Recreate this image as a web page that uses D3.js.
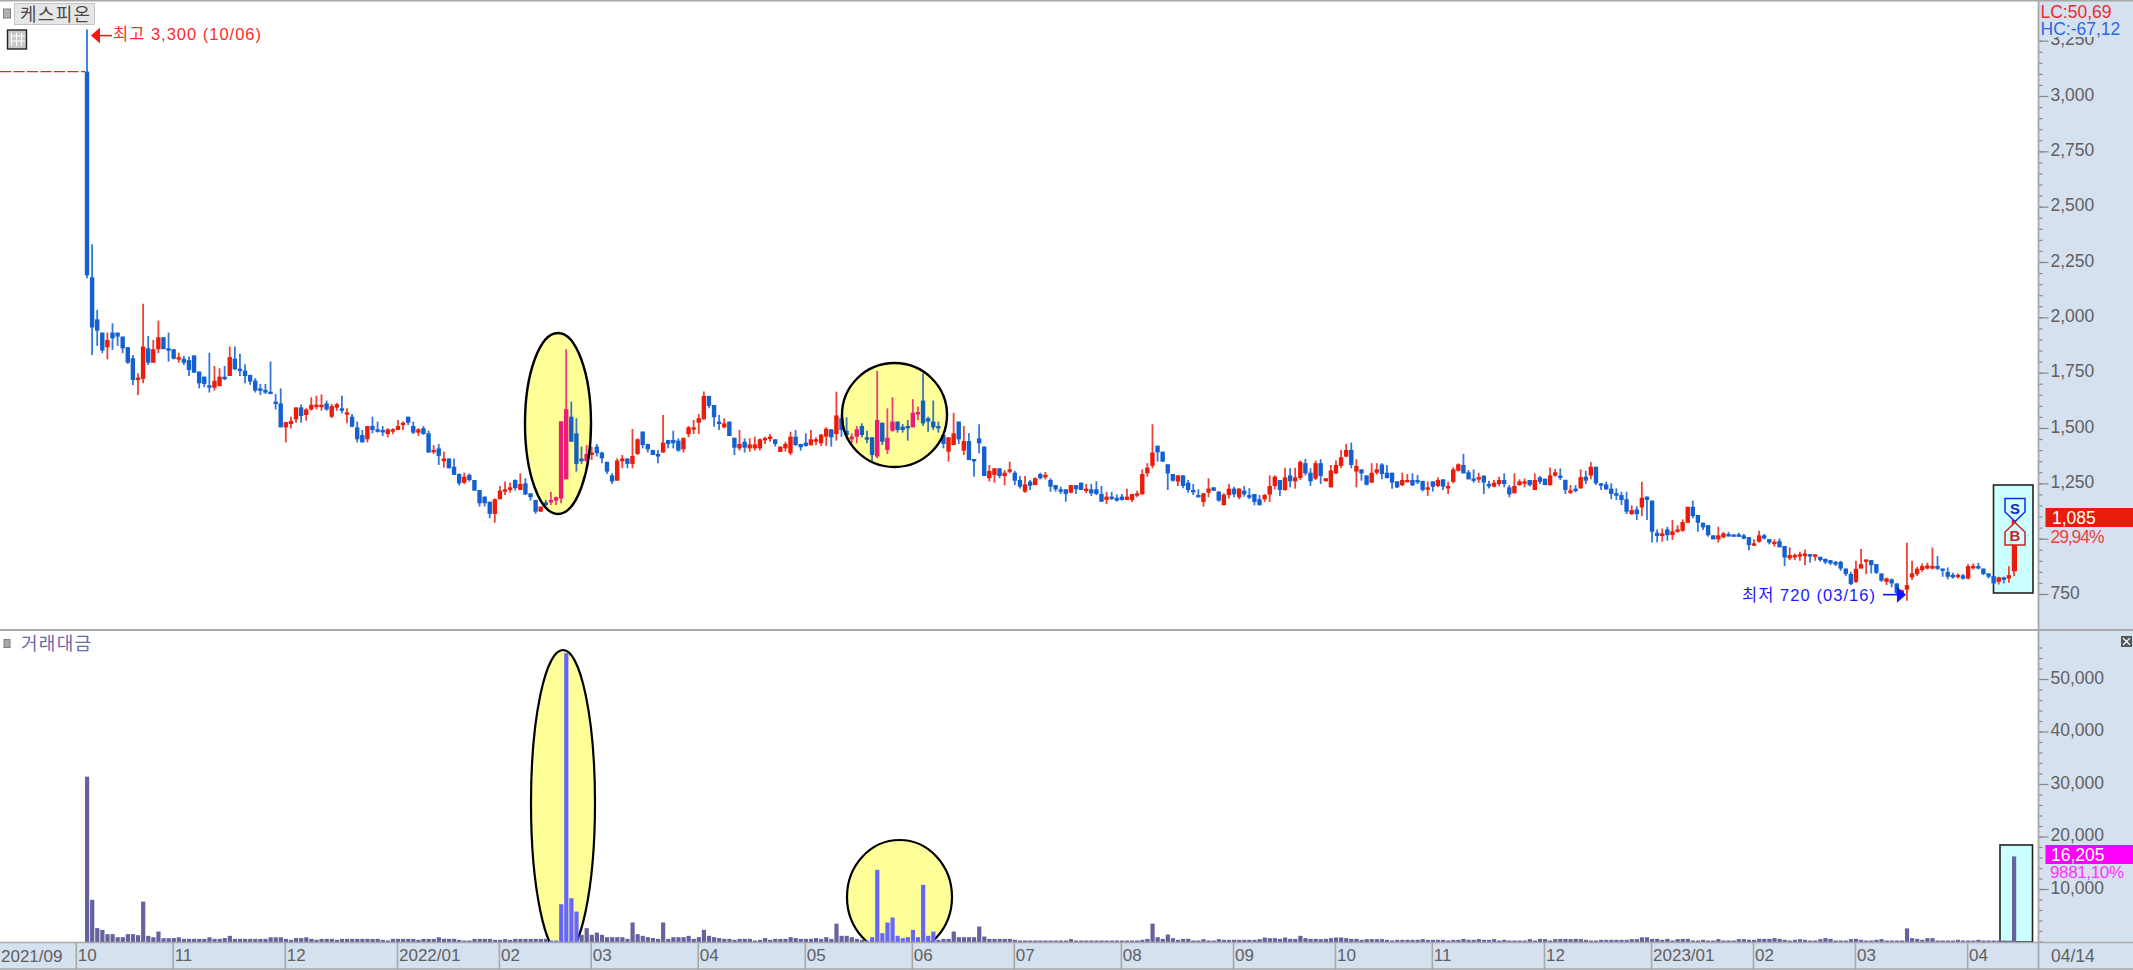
<!DOCTYPE html>
<html><head><meta charset="utf-8">
<script src="https://cdn.jsdelivr.net/npm/d3@7"></script>
<style>
html,body{margin:0;padding:0;background:#fff;overflow:hidden}
svg{display:block}
text{font-family:"Liberation Sans","Noto Sans CJK KR",sans-serif}
</style></head><body><div id="chart"></div>
<script>
const title = "케스피온";
const volumeTitle = "거래대금";
const opens = [
3110,2181,1991,1931,1865,1931,1931,1913,1865,1815,
1717,1722,1860,1795,1856,1910,1860,1856,1810,1813,
1807,1828,1755,1732,1693,1682,1690,1732,1735,1813,
1768,1759,1740,1714,1679,1672,1664,1619,1611,1503,
1518,1539,1593,1559,1584,1599,1601,1611,1551,1592,
1589,1569,1551,1503,1468,1449,1509,1494,1491,1473,
1488,1491,1518,1551,1509,1479,1499,1476,1393,1408,
1350,1362,1325,1292,1253,1288,1265,1220,1190,1167,
1112,1178,1217,1220,1265,1220,1250,1205,1175,1122,
1164,1166,1172,1181,1268,1551,1476,1362,1350,1378,
1416,1389,1347,1286,1262,1350,1362,1338,1383,1484,
1428,1401,1383,1389,1446,1446,1443,1404,1472,1498,
1524,1539,1645,1604,1529,1503,1529,1456,1408,1438,
1408,1408,1408,1449,1453,1449,1392,1408,1386,1461,
1428,1434,1422,1443,1431,1461,1494,1473,1544,1488,
1449,1461,1509,1458,1458,1371,1524,1401,1488,1529,
1506,1509,1503,1566,1624,1544,1529,1509,1468,1393,
1423,1529,1398,1441,1360,1453,1416,1273,1288,1318,
1283,1306,1298,1265,1212,1258,1242,1292,1280,1265,
1242,1223,1223,1208,1242,1253,1216,1223,1223,1202,
1175,1190,1185,1190,1175,1175,1197,1200,1295,1329,
1420,1393,1336,1292,1258,1286,1253,1220,1197,1166,
1208,1232,1213,1151,1197,1226,1187,1217,1197,1202,
1178,1178,1199,1238,1265,1220,1286,1259,1274,1341,
1298,1271,1341,1259,1232,1295,1329,1371,1401,1303,
1313,1286,1253,1298,1335,1298,1298,1259,1241,1261,
1265,1265,1261,1228,1259,1238,1268,1227,1257,1307,
1333,1300,1272,1269,1285,1247,1235,1247,1265,1232,
1205,1242,1253,1265,1220,1277,1271,1242,1285,1285,
1266,1209,1226,1227,1280,1285,1325,1250,1245,1226,
1205,1197,1178,1111,1132,1141,1190,1172,1027,1012,
1042,1016,1036,1036,1072,1144,1107,1072,1061,1015,
997,1006,1021,1019,1019,1015,1007,973,986,1015,
998,979,989,967,911,921,923,921,930,921,
918,909,903,895,895,865,840,805,865,900,
903,885,843,805,816,798,749,770,825,840,
858,865,865,877,865,850,837,828,834,820,
871,876,865,843,831,805,825,820,853];
const highs = [
3300,2330,2034,1931,1931,1973,1931,1913,1865,1830,
1747,2061,1916,1898,1985,1910,1931,1856,1840,1825,
1823,1828,1755,1732,1840,1780,1770,1780,1868,1868,
1835,1788,1740,1725,1699,1699,1800,1654,1679,1528,
1551,1593,1607,1589,1639,1646,1652,1624,1608,1614,
1646,1589,1563,1529,1491,1509,1551,1529,1509,1499,
1499,1536,1529,1551,1529,1499,1509,1488,1423,1428,
1393,1362,1362,1295,1298,1295,1265,1220,1190,1167,
1182,1238,1258,1253,1268,1295,1273,1205,1175,1145,
1175,1212,1190,1530,1856,1619,1544,1416,1423,1416,
1428,1393,1347,1295,1363,1378,1363,1496,1453,1484,
1428,1401,1401,1559,1446,1488,1453,1458,1509,1536,
1563,1665,1645,1604,1559,1544,1529,1456,1491,1453,
1453,1461,1453,1461,1473,1449,1416,1438,1483,1491,
1428,1476,1491,1458,1473,1503,1494,1664,1557,1548,
1476,1509,1521,1488,1458,1759,1524,1589,1639,1529,
1518,1536,1630,1597,1747,1551,1624,1529,1468,1458,
1569,1529,1509,1476,1360,1517,1416,1333,1318,1318,
1310,1348,1306,1283,1283,1265,1277,1298,1301,1273,
1242,1235,1223,1242,1242,1253,1247,1247,1259,1238,
1212,1211,1200,1202,1226,1202,1217,1313,1341,1517,
1420,1393,1336,1292,1288,1286,1265,1247,1223,1205,
1273,1232,1213,1205,1247,1235,1228,1238,1228,1202,
1197,1202,1286,1286,1265,1320,1318,1320,1353,1360,
1318,1353,1359,1273,1333,1353,1401,1428,1434,1359,
1313,1286,1341,1341,1341,1333,1298,1259,1298,1292,
1295,1288,1261,1258,1259,1277,1268,1257,1322,1340,
1383,1310,1313,1298,1285,1262,1265,1280,1295,1242,
1295,1268,1272,1265,1295,1283,1271,1322,1315,1318,
1266,1242,1242,1313,1307,1346,1325,1250,1257,1250,
1227,1212,1212,1150,1147,1257,1190,1172,1042,1046,
1054,1084,1061,1087,1144,1172,1107,1072,1061,1015,
1054,1031,1031,1019,1027,1021,1007,997,1036,1021,
998,997,1001,967,961,933,941,951,930,930,
918,909,903,900,900,865,850,900,953,906,
903,885,843,825,820,798,770,981,900,873,
888,891,960,921,865,870,846,843,840,885,
888,891,865,843,831,828,828,875,1085];
const lows = [
2177,1830,1871,1838,1810,1853,1871,1838,1790,1694,
1649,1702,1785,1795,1838,1856,1800,1810,1795,1785,
1735,1750,1679,1684,1660,1669,1687,1717,1735,1762,
1735,1702,1695,1660,1649,1654,1660,1584,1503,1435,
1498,1524,1524,1533,1578,1584,1578,1578,1544,1578,
1566,1521,1503,1435,1435,1435,1476,1479,1464,1458,
1473,1491,1491,1514,1473,1464,1469,1389,1383,1333,
1321,1318,1288,1241,1247,1258,1217,1145,1145,1092,
1072,1178,1197,1208,1217,1220,1197,1172,1112,1122,
1145,1152,1152,1160,1268,1438,1303,1338,1348,1356,
1371,1341,1292,1247,1262,1318,1318,1318,1378,1408,
1389,1378,1341,1389,1408,1408,1393,1389,1458,1473,
1473,1539,1589,1506,1491,1499,1464,1378,1398,1389,
1393,1398,1398,1428,1438,1416,1392,1393,1377,1419,
1398,1416,1422,1422,1419,1419,1416,1443,1460,1449,
1431,1431,1458,1431,1352,1363,1423,1383,1483,1479,
1479,1443,1503,1536,1509,1483,1491,1479,1408,1348,
1423,1428,1378,1355,1280,1386,1283,1258,1253,1273,
1241,1295,1242,1227,1208,1220,1242,1268,1268,1212,
1212,1202,1167,1205,1202,1220,1205,1193,1197,1167,
1157,1175,1167,1172,1175,1166,1187,1200,1280,1318,
1348,1348,1220,1258,1238,1228,1208,1197,1193,1145,
1187,1216,1167,1151,1182,1187,1178,1190,1178,1151,
1151,1166,1166,1223,1193,1217,1232,1226,1265,1286,
1238,1265,1247,1259,1232,1292,1318,1368,1318,1232,
1262,1240,1253,1289,1268,1272,1226,1229,1238,1259,
1238,1247,1213,1193,1213,1232,1220,1202,1250,1303,
1295,1268,1253,1253,1202,1227,1232,1238,1232,1187,
1205,1239,1232,1235,1220,1247,1242,1239,1280,1265,
1202,1202,1209,1227,1247,1268,1242,1220,1220,1179,
1175,1152,1111,1107,1084,1102,1084,983,983,986,
991,994,1027,1031,1072,1092,1031,1039,1009,997,
982,1001,1009,1015,1009,997,948,967,982,997,
974,964,961,876,903,903,900,880,891,900,
896,885,880,877,855,831,790,800,865,840,
843,840,805,790,780,750,745,720,813,831,
850,861,861,858,828,816,820,820,816,816,
861,861,835,820,795,793,798,801,830];
const closes = [
2190,1954,1940,1850,1898,1905,1913,1860,1795,1717,
1728,1868,1795,1856,1910,1856,1853,1813,1820,1795,
1762,1750,1702,1699,1687,1713,1732,1720,1820,1765,
1759,1735,1710,1669,1672,1660,1662,1611,1503,1526,
1532,1593,1554,1584,1605,1605,1605,1584,1599,1607,
1578,1571,1506,1449,1435,1509,1491,1483,1484,1494,
1494,1509,1524,1524,1479,1494,1473,1389,1401,1374,
1362,1318,1288,1250,1280,1265,1217,1160,1160,1112,
1178,1217,1223,1232,1228,1247,1200,1187,1122,1145,
1152,1175,1187,1530,1585,1438,1338,1350,1383,1389,
1386,1363,1303,1258,1353,1362,1338,1374,1449,1423,
1404,1378,1371,1434,1428,1431,1398,1454,1503,1503,
1544,1645,1600,1549,1518,1521,1464,1411,1428,1411,
1426,1426,1449,1455,1461,1428,1416,1428,1461,1423,
1413,1419,1449,1449,1470,1497,1458,1557,1491,1468,
1461,1494,1468,1452,1378,1536,1438,1456,1529,1491,
1491,1500,1569,1572,1521,1529,1503,1503,1428,1458,
1476,1449,1441,1355,1351,1431,1283,1306,1318,1283,
1298,1313,1262,1235,1245,1239,1273,1273,1288,1235,
1223,1217,1202,1242,1223,1220,1226,1205,1202,1167,
1190,1179,1172,1175,1190,1202,1205,1292,1321,1389,
1390,1348,1295,1262,1286,1238,1220,1212,1193,1205,
1226,1216,1172,1199,1226,1200,1226,1200,1185,1166,
1151,1197,1238,1280,1220,1277,1259,1277,1347,1295,
1259,1341,1283,1273,1308,1333,1368,1401,1333,1329,
1295,1244,1298,1313,1292,1274,1253,1232,1265,1265,
1241,1255,1220,1232,1235,1265,1235,1238,1313,1336,
1295,1268,1268,1278,1254,1239,1253,1265,1247,1200,
1238,1259,1259,1242,1265,1257,1242,1286,1300,1275,
1220,1218,1215,1278,1262,1325,1250,1245,1223,1202,
1194,1175,1122,1129,1111,1185,1175,1031,1012,1024,
1016,1033,1042,1075,1144,1102,1072,1051,1016,997,
1015,1024,1016,1015,1015,1000,971,979,1015,1001,
982,986,961,915,926,926,930,933,921,929,
903,893,888,883,865,840,795,864,885,906,
880,846,810,820,798,755,767,790,843,864,
876,879,877,864,855,828,825,837,819,876,
877,870,840,828,798,825,816,835,1085];
const volumes = [
31400,7940,2540,2200,1400,1400,825,825,1400,1400,
1200,7600,1080,825,1900,635,635,650,800,500,
500,500,500,500,800,500,500,650,1080,500,
500,500,500,500,500,500,800,800,800,500,
320,650,650,800,500,320,500,500,500,320,
500,500,500,500,500,500,500,500,320,190,
500,500,500,500,500,320,500,500,500,800,
500,500,500,320,190,190,500,500,500,500,
320,320,450,320,500,500,500,500,500,500,
500,190,190,7100,54900,8250,5700,1270,2540,1270,
1700,1270,825,825,825,825,500,3620,1400,1080,
825,650,500,3620,500,825,825,825,1080,500,
825,2220,1080,825,650,500,500,320,500,500,
500,190,320,650,320,500,500,500,825,650,
500,500,500,650,500,825,500,3400,1080,1080,
825,500,320,190,825,13650,1590,3620,4570,1080,
635,825,2220,825,10800,1080,1900,320,500,500,
1900,825,825,825,825,2860,950,500,500,500,
500,500,320,190,190,190,190,190,190,190,
190,190,190,450,190,190,190,190,190,190,
190,190,190,190,190,190,190,320,500,3400,
825,500,1330,635,320,500,500,190,190,450,
190,190,450,320,320,320,320,320,320,320,
450,760,635,635,500,760,500,500,1080,635,
500,500,450,500,635,760,760,635,500,500,
320,450,450,450,450,320,190,320,320,320,
320,320,450,320,320,320,320,190,320,320,
500,320,320,450,320,320,450,190,320,190,
190,190,190,450,190,500,450,190,450,500,
500,450,500,450,320,190,190,320,320,320,
320,320,320,450,450,800,800,500,500,320,
500,190,450,500,500,190,190,320,190,190,
450,190,190,190,450,450,320,320,500,500,
500,650,500,320,190,320,450,320,190,190,
450,650,500,190,190,190,450,500,320,190,
190,320,450,190,190,190,190,2500,635,500,
320,635,635,190,190,190,190,320,190,190,
190,320,190,190,190,190,190,162,16205];
const priceTicks = [750,1000,1250,1500,1750,2000,2250,2500,2750,3000,3250];
const volumeTicks = [10000,20000,30000,40000,50000];
const monthLabels = ["10","11","12","2022/01","02","03","04","05","06","07","08","09","10","11","12","2023/01","02","03","04"];
const monthBars = [-2,17,39,61,81,99,120,141,162,182,203,225,245,264,286,307,327,347,369];
const firstLabel = "2021/09";
const lastLabel = "04/14";

const W=2133,H=970, axisX=2038.5, dividerY=630, baseY=942;
const C={red:"#ea1c0a",blue:"#1560d0",redW:"#ec4236",blueW:"#3376dc",pink:"#ec1a78",pinkW:"#f0407c",
  blueIn:"#1460bc",blueInW:"#3a74b6",panel:"#d6e1f0",line:"#a8a8a8",vol:"#66629e",volIn:"#6666ff",yellow:"#ffff99",cyan:"#ccffff",txt:"#606060"};

const x=d3.scaleLinear().domain([0,378]).range([87,2014]);
const yP=d3.scaleLinear().domain([750,3000]).range([594,96]);
const yV=d3.scaleLinear().domain([0,50000]).range([941.5,679]);

const priceEll=[{cx:558,cy:423.5,rx:33,ry:90.5},{cx:894.5,cy:415,rx:52.5,ry:52}];
const volEll=[{cx:563,cy:803,rx:32,ry:153},{cx:899.5,cy:897,rx:52.5,ry:57}];
const inside=(px,py,list)=>list.some(e=>((px-e.cx)/e.rx)**2+((py-e.cy)/e.ry)**2<1);

const svg=d3.select("#chart").append("svg").attr("width",W).attr("height",H);
svg.append("defs").append("clipPath").attr("id","vclip").append("rect").attr("x",0).attr("y",631).attr("width",axisX).attr("height",baseY-631);

svg.append("rect").attr("width",W).attr("height",H).attr("fill","#fff");

// right & bottom panels
svg.append("rect").attr("x",axisX).attr("y",0).attr("width",W-axisX).attr("height",H).attr("fill",C.panel);
svg.append("rect").attr("x",0).attr("y",baseY).attr("width",W).attr("height",H-baseY).attr("fill",C.panel);

// highlight fills
svg.selectAll(".pe").data(priceEll).join("ellipse").attr("class","pe")
  .attr("cx",d=>d.cx).attr("cy",d=>d.cy).attr("rx",d=>d.rx).attr("ry",d=>d.ry).attr("fill",C.yellow);
svg.append("g").attr("clip-path","url(#vclip)").selectAll(".ve").data(volEll).join("ellipse").attr("class","ve")
  .attr("cx",d=>d.cx).attr("cy",d=>d.cy).attr("rx",d=>d.rx).attr("ry",d=>d.ry)
  .attr("fill",C.yellow).attr("stroke","#000").attr("stroke-width",2.2);

// cyan boxes
svg.append("rect").attr("x",1993.5).attr("y",485).attr("width",39.5).attr("height",108)
  .attr("fill",C.cyan).attr("stroke","#222").attr("stroke-width",1.6);
svg.append("rect").attr("x",2000).attr("y",845).attr("width",32.5).attr("height",baseY-845)
  .attr("fill",C.cyan).attr("stroke","#222").attr("stroke-width",1.6);

// candles
const idx=d3.range(opens.length);
const cg=svg.append("g");
const isUp=i=>closes[i]>=opens[i];
const midY=i=>yP((opens[i]+closes[i])/2);
const isIn=i=>inside(x(i),midY(i),priceEll);
cg.selectAll(".wick").data(idx).join("line").attr("class","wick")
  .attr("x1",i=>x(i)).attr("x2",i=>x(i)).attr("y1",i=>yP(highs[i])).attr("y2",i=>yP(lows[i]))
  .attr("stroke-width",1.8)
  .attr("stroke",i=>isIn(i)?(isUp(i)?C.pinkW:C.blueInW):(isUp(i)?C.redW:C.blueW));
cg.selectAll(".body").data(idx).join("rect").attr("class","body")
  .attr("x",i=>x(i)-2.2).attr("width",4.4)
  .attr("y",i=>yP(Math.max(opens[i],closes[i])))
  .attr("height",i=>Math.max(2.4,Math.abs(yP(opens[i])-yP(closes[i]))))
  .attr("fill",i=>isIn(i)?(isUp(i)?C.pink:C.blueIn):(isUp(i)?C.red:C.blue));

// ellipse outlines over the candles
svg.selectAll(".po").data(priceEll).join("ellipse").attr("class","po")
  .attr("cx",d=>d.cx).attr("cy",d=>d.cy).attr("rx",d=>d.rx).attr("ry",d=>d.ry)
  .attr("fill","none").attr("stroke","#000").attr("stroke-width",2.4);

// volume bars
svg.append("g").attr("clip-path","url(#vclip)").selectAll(".vb").data(idx).join("rect").attr("class","vb")
  .attr("x",i=>x(i)-2).attr("width",4.2)
  .attr("y",i=>yV(volumes[i])).attr("height",i=>baseY-yV(volumes[i]))
  .attr("fill",i=>inside(x(i),yV(volumes[i])+1,volEll)?C.volIn:C.vol);

// reference line and high / low notes
svg.append("line").attr("x1",0).attr("x2",x(0)-2).attr("y1",yP(opens[0])).attr("y2",yP(opens[0]))
  .attr("stroke","#ee2222").attr("stroke-width",1.3).attr("stroke-dasharray","11 2.5");
const hx=x(0)+4;
svg.append("path").attr("fill","#ff1414")
  .attr("d",`M${hx},${yP(3300)+6} l9,-8 v16 z`);
svg.append("line").attr("x1",hx+8).attr("x2",hx+21).attr("y1",yP(3300)+6).attr("y2",yP(3300)+6).attr("stroke","#ff1414").attr("stroke-width",1.6);
svg.append("text").attr("x",113).attr("y",yP(3300)+10.5).attr("fill","#ff2a2a").attr("font-size",16.5).attr("textLength",148).text("최고 3,300 (10/06)");
const lx=x(357)-1;
svg.append("path").attr("fill","#1414ff").attr("d",`M${lx},${yP(720)-6} l-9,-8 v16 z`);
svg.append("line").attr("x1",lx-23).attr("x2",lx-8).attr("y1",yP(720)-6).attr("y2",yP(720)-6).attr("stroke","#1414ff").attr("stroke-width",1.6);
svg.append("text").attr("x",1742).attr("y",yP(720)).attr("fill","#1a1aff").attr("font-size",16.5).attr("textLength",133).text("최저 720 (03/16)");

// S / B markers
const mx=x(378)+1;
svg.append("path").attr("fill",C.cyan).attr("stroke","#2222ee").attr("stroke-width",1.5)
  .attr("d",`M${mx-10},498.5 H${mx+10} V512 L${mx},521.5 L${mx-10},512 Z`);
svg.append("path").attr("fill",C.cyan).attr("stroke","#cc2020").attr("stroke-width",1.5)
  .attr("d",`M${mx},522.5 L${mx+10},532 V545 H${mx-10} V532 Z`);
svg.append("text").attr("x",mx).attr("y",514).attr("text-anchor","middle").attr("font-size",15).attr("font-weight",700).attr("fill","#2222cc").text("S");
svg.append("text").attr("x",mx).attr("y",541).attr("text-anchor","middle").attr("font-size",15).attr("font-weight",700).attr("fill","#cc2222").text("B");
svg.append("rect").attr("x",mx-1.5).attr("y",545).attr("width",3.5).attr("height",yP(853)-545).attr("fill",C.red);

// right axes
function rightAxis(scale,major,minor){
  const g=svg.append("g").attr("transform",`translate(${axisX},0)`);
  g.call(d3.axisRight(scale).tickValues(minor).tickSize(4).tickFormat(""));
  const m=svg.append("g").attr("transform",`translate(${axisX},0)`);
  m.call(d3.axisRight(scale).tickValues(major).tickSize(10).tickPadding(2)
    .tickFormat(d=>d===1000?"":d3.format(",")(d)));
  [g,m].forEach(s=>{s.select(".domain").remove();s.selectAll("line").attr("stroke","#888").attr("stroke-width",1.2);});
  m.selectAll("text").attr("fill",C.txt).attr("font-size",17.5).attr("y",-1.5).style("font-family","'Liberation Sans'");
}
rightAxis(yP,priceTicks,d3.range(750,3300,50));
rightAxis(yV,volumeTicks,d3.range(0,58000,2000));

// value flags that sit over the axis labels
svg.append("rect").attr("x",axisX+1.5).attr("y",1).attr("width",W-axisX).attr("height",36).attr("fill",C.panel);
svg.append("text").attr("x",2040.5).attr("y",18).attr("fill","#ee2a2a").attr("font-size",17.5).text("LC:50,69");
svg.append("text").attr("x",2040.5).attr("y",35).attr("fill","#2a6ae0").attr("font-size",17.5).text("HC:-67,12");

svg.append("rect").attr("x",2045.5).attr("y",508).attr("width",W-2045.5).attr("height",19).attr("fill","#e81c0a");
svg.append("text").attr("x",2052).attr("y",524).attr("fill","#fff").attr("font-size",17.5).text("1,085");
svg.append("text").attr("x",2050.5).attr("y",542.5).attr("fill","#ee4040").attr("font-size",17.5).attr("textLength",54).text("29,94%");

svg.append("rect").attr("x",2049).attr("y",863).attr("width",84).attr("height",17).attr("fill",C.panel);
svg.append("rect").attr("x",2045.5).attr("y",845).attr("width",W-2045.5).attr("height",19).attr("fill","#ff00ff");
svg.append("text").attr("x",2051).attr("y",860.5).attr("fill","#fff").attr("font-size",17.5).text("16,205");
svg.append("text").attr("x",2050).attr("y",877.5).attr("fill","#ff30ff").attr("font-size",17).attr("textLength",74).text("9881,10%");

// bottom time axis
const xg=svg.append("g").attr("transform",`translate(-1,${baseY})`);
xg.call(d3.axisBottom(x).tickValues(monthBars).tickSize(H-baseY).tickPadding(0).tickFormat((d,i)=>monthLabels[i]));
xg.select(".domain").remove();
xg.selectAll("line").attr("stroke",C.line).attr("stroke-width",1.6);
xg.selectAll("text").attr("text-anchor","start").attr("x",1.5).attr("y",7).attr("dy","0.71em").attr("fill",C.txt).attr("font-size",17);
svg.append("text").attr("x",1).attr("y",962).attr("fill",C.txt).attr("font-size",17).text(firstLabel);
svg.append("text").attr("x",2051).attr("y",962).attr("fill",C.txt).attr("font-size",17.5).text(lastLabel);

// frame lines
const frame=svg.append("g").attr("stroke",C.line);
frame.append("line").attr("x1",0).attr("x2",W).attr("y1",0.5).attr("y2",0.5).attr("stroke-width",2);
frame.append("line").attr("x1",0).attr("x2",W).attr("y1",dividerY).attr("y2",dividerY).attr("stroke-width",1.8);
frame.append("line").attr("x1",0).attr("x2",W).attr("y1",baseY+0.5).attr("y2",baseY+0.5).attr("stroke-width",1.6);
frame.append("line").attr("x1",0).attr("x2",W).attr("y1",969).attr("y2",969).attr("stroke-width",1.6);
frame.append("line").attr("x1",axisX).attr("x2",axisX).attr("y1",0).attr("y2",H).attr("stroke-width",1.8);

// title widgets
svg.append("rect").attr("x",3.5).attr("y",9).attr("width",7).attr("height",9).attr("fill","#b0b0b0").attr("stroke","#808080");
svg.append("rect").attr("x",14.5).attr("y",3.5).attr("width",80).attr("height",21).attr("fill","#e6e6e6").attr("stroke","#c4c4c4");
svg.append("text").attr("x",20).attr("y",20.5).attr("fill","#4a4a4a").attr("font-size",18).attr("textLength",70).text(title);
svg.append("rect").attr("x",7.5).attr("y",30).attr("width",19).attr("height",19).attr("fill","#c8c8c8").attr("stroke","#222").attr("stroke-width",1.4);
const grid=svg.append("g").attr("stroke","#fff").attr("stroke-width",1);
[10.5,15.5,20.5].forEach(v=>grid.append("line").attr("x1",v+1).attr("x2",v+1).attr("y1",33).attr("y2",46));
[36,41].forEach(v=>grid.append("line").attr("x1",10).attr("x2",25).attr("y1",v).attr("y2",v));
svg.append("rect").attr("x",4).attr("y",639.5).attr("width",6).attr("height",8).attr("fill","#a8a8a8").attr("stroke","#808080");
svg.append("text").attr("x",21).attr("y",650).attr("fill","#6a6aa8").attr("font-size",18).attr("textLength",70).text(volumeTitle);
svg.append("rect").attr("x",2121).attr("y",636).attr("width",11).attr("height",11).attr("fill","#555");
svg.append("path").attr("d","M2123,638 l7,7 M2130,638 l-7,7").attr("stroke","#fff").attr("stroke-width",1.2);
</script></body></html>
